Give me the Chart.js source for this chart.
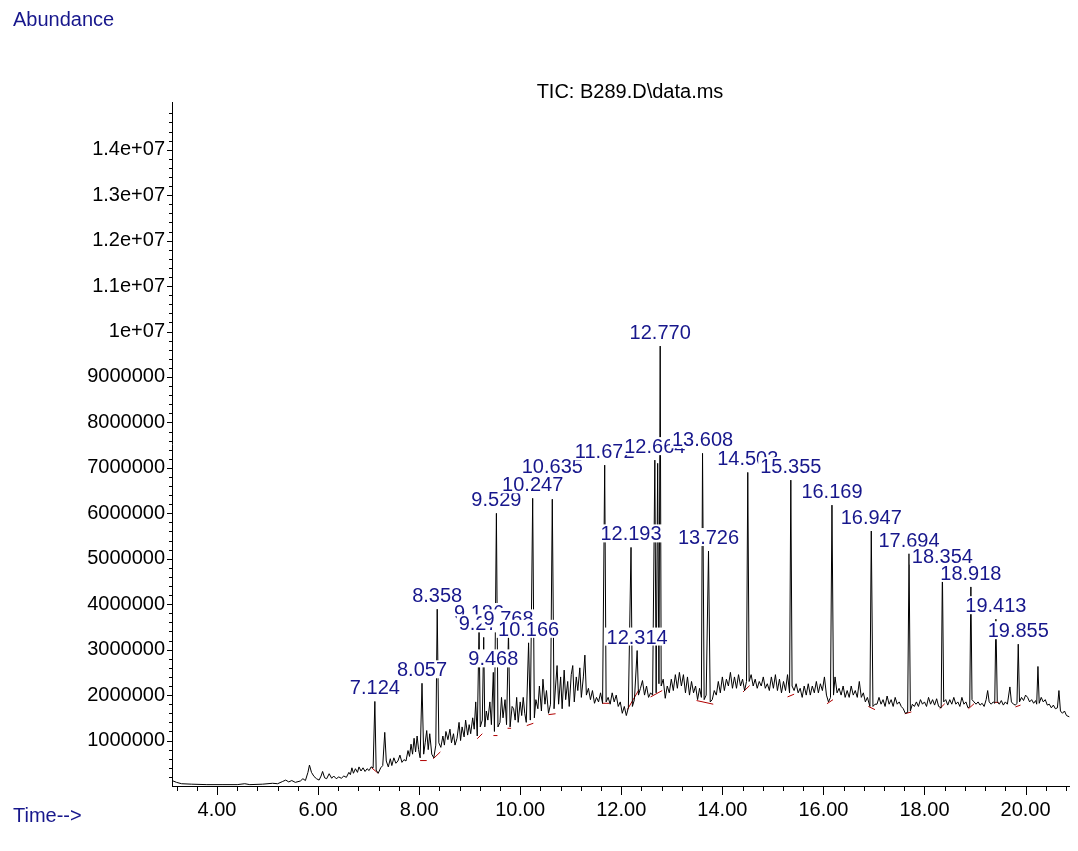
<!DOCTYPE html>
<html>
<head>
<meta charset="utf-8">
<title>TIC: B289.D\data.ms</title>
<script src="https://cdn.jsdelivr.net/npm/chart.js@4.4.1/dist/chart.umd.min.js"></script>
<style>
  html, body { margin: 0; padding: 0; background: #fff; }
  canvas { display: block; }
</style>
</head>
<body>
<canvas id="chart" width="1078" height="851"></canvas>
<script>
// Total ion chromatogram. Time in minutes,
// abundance in millions of counts (one entry per time point).
const retentionTime = [
  3.11, 3.20, 3.30, 3.50, 3.80, 4.10, 4.40, 4.55, 4.65, 4.90,
  5.10, 5.20, 5.30, 5.36, 5.42, 5.48, 5.55, 5.65, 5.70, 5.75,
  5.80, 5.83, 5.87, 5.92, 5.97, 6.02, 6.06, 6.09, 6.13, 6.17,
  6.22, 6.27, 6.31, 6.36, 6.41, 6.46, 6.51, 6.56, 6.61, 6.64,
  6.67, 6.70, 6.74, 6.78, 6.81, 6.85, 6.89, 6.93, 6.97, 7.01,
  7.05, 7.09, 7.124, 7.15, 7.19, 7.24, 7.28, 7.32, 7.35, 7.39,
  7.43, 7.46, 7.50, 7.54, 7.58, 7.62, 7.66, 7.70, 7.74, 7.78,
  7.81, 7.84, 7.87, 7.90, 7.93, 7.96, 7.99, 8.02, 8.057, 8.09,
  8.12, 8.15, 8.18, 8.21, 8.25, 8.29, 8.33, 8.358, 8.39, 8.43,
  8.47, 8.50, 8.53, 8.57, 8.61, 8.64, 8.68, 8.71, 8.75, 8.79,
  8.82, 8.85, 8.89, 8.92, 8.96, 8.99, 9.02, 9.06, 9.09, 9.12,
  9.15, 9.186, 9.21, 9.25, 9.278, 9.30, 9.33, 9.36, 9.40, 9.43,
  9.468, 9.49, 9.529, 9.56, 9.60, 9.63, 9.66, 9.70, 9.73, 9.768,
  9.80, 9.84, 9.87, 9.90, 9.93, 9.96, 10.00, 10.03, 10.06, 10.09,
  10.12, 10.166, 10.20, 10.247, 10.28, 10.31, 10.35, 10.38, 10.42, 10.45,
  10.49, 10.52, 10.56, 10.60, 10.635, 10.67, 10.70, 10.73, 10.76, 10.80,
  10.83, 10.87, 10.90, 10.94, 10.97, 11.01, 11.04, 11.07, 11.11, 11.14,
  11.18, 11.21, 11.25, 11.28, 11.31, 11.35, 11.39, 11.43, 11.47, 11.51,
  11.55, 11.59, 11.63, 11.672, 11.70, 11.74, 11.78, 11.82, 11.86, 11.90,
  11.94, 11.98, 12.02, 12.06, 12.10, 12.14, 12.193, 12.22, 12.26, 12.314,
  12.34, 12.38, 12.42, 12.46, 12.50, 12.54, 12.58, 12.62, 12.664, 12.69,
  12.72, 12.745, 12.770, 12.79, 12.83, 12.87, 12.91, 12.95, 12.99, 13.03,
  13.07, 13.11, 13.15, 13.19, 13.23, 13.27, 13.31, 13.35, 13.39, 13.43,
  13.47, 13.51, 13.55, 13.585, 13.608, 13.64, 13.68, 13.726, 13.76, 13.80,
  13.84, 13.88, 13.92, 13.96, 14.00, 14.04, 14.08, 14.12, 14.16, 14.20,
  14.24, 14.28, 14.32, 14.36, 14.40, 14.44, 14.478, 14.503, 14.53, 14.57,
  14.61, 14.65, 14.69, 14.73, 14.77, 14.81, 14.85, 14.89, 14.93, 14.97,
  15.01, 15.05, 15.09, 15.13, 15.17, 15.21, 15.25, 15.29, 15.33, 15.355,
  15.38, 15.42, 15.46, 15.50, 15.54, 15.58, 15.62, 15.66, 15.70, 15.74,
  15.78, 15.82, 15.86, 15.90, 15.94, 15.98, 16.02, 16.06, 16.10, 16.14,
  16.169, 16.20, 16.23, 16.27, 16.31, 16.35, 16.39, 16.43, 16.47, 16.51,
  16.55, 16.59, 16.63, 16.67, 16.71, 16.75, 16.79, 16.83, 16.87, 16.92,
  16.947, 16.98, 17.02, 17.06, 17.10, 17.14, 17.18, 17.22, 17.26, 17.30,
  17.34, 17.38, 17.42, 17.46, 17.50, 17.54, 17.58, 17.62, 17.667, 17.694,
  17.72, 17.76, 17.80, 17.84, 17.88, 17.92, 17.96, 18.00, 18.04, 18.08,
  18.12, 18.16, 18.20, 18.24, 18.28, 18.33, 18.354, 18.38, 18.42, 18.46,
  18.50, 18.54, 18.58, 18.62, 18.66, 18.70, 18.74, 18.78, 18.82, 18.86,
  18.895, 18.918, 18.94, 18.98, 19.02, 19.06, 19.10, 19.14, 19.18, 19.22,
  19.25, 19.28, 19.32, 19.36, 19.39, 19.413, 19.44, 19.48, 19.52, 19.56,
  19.60, 19.64, 19.69, 19.72, 19.76, 19.80, 19.83, 19.855, 19.88, 19.92,
  19.96, 20.00, 20.04, 20.08, 20.12, 20.16, 20.20, 20.22, 20.245, 20.27,
  20.31, 20.35, 20.39, 20.43, 20.47, 20.51, 20.55, 20.59, 20.63, 20.66,
  20.69, 20.73, 20.77, 20.81, 20.87
];
const abundanceM = [
  0.12, 0.08, 0.05, 0.04, 0.03, 0.03, 0.03, 0.05, 0.03, 0.04,
  0.06, 0.05, 0.10, 0.13, 0.09, 0.12, 0.08, 0.11, 0.16, 0.12,
  0.30, 0.46, 0.30, 0.21, 0.16, 0.13, 0.22, 0.32, 0.18, 0.16,
  0.27, 0.17, 0.22, 0.16, 0.20, 0.17, 0.22, 0.19, 0.30, 0.25,
  0.40, 0.28, 0.38, 0.30, 0.42, 0.33, 0.40, 0.32, 0.38, 0.34,
  0.42, 0.40, 1.86, 0.35, 0.28, 0.40, 0.45, 1.18, 0.55, 0.42,
  0.60, 0.45, 0.62, 0.50, 0.55, 0.68, 0.52, 0.58, 0.55, 0.78,
  0.65, 0.92, 0.70, 1.05, 0.75, 1.10, 0.80, 0.62, 2.26, 0.70,
  0.95, 1.22, 0.80, 1.15, 0.70, 0.62, 0.90, 3.89, 0.95, 0.85,
  1.10, 0.90, 1.20, 1.02, 1.25, 0.95, 1.15, 0.90, 1.05, 1.40,
  1.00, 1.30, 1.08, 1.45, 1.12, 1.35, 1.15, 1.50, 1.25, 1.85,
  1.10, 3.52, 1.30, 1.45, 3.27, 1.30, 1.65, 1.45, 1.85, 1.35,
  2.50, 1.20, 6.00, 1.30, 1.40, 1.95, 1.50, 1.90, 1.35, 3.38,
  1.30, 1.75, 1.70, 1.45, 1.95, 1.40, 1.85, 1.55, 1.95, 1.60,
  1.40, 3.15, 1.45, 6.33, 1.50, 1.90, 1.70, 2.20, 1.65, 2.35,
  1.80, 2.10, 1.60, 1.80, 6.31, 1.70, 2.20, 2.65, 1.80, 2.40,
  1.70, 2.55, 1.90, 2.30, 1.75, 2.45, 2.65, 1.85, 2.40, 2.10,
  2.60, 1.95, 2.40, 2.88, 2.00, 2.15, 1.90, 2.10, 1.82, 1.95,
  1.85, 2.05, 1.82, 7.06, 1.85, 1.95, 1.80, 2.05, 1.85, 2.00,
  1.75, 1.85, 1.60, 1.75, 1.55, 1.72, 5.25, 1.75, 1.90, 2.98,
  2.00, 2.15, 2.32, 2.00, 2.20, 1.95, 2.05, 2.00, 7.17, 2.05,
  7.10, 2.25, 9.68, 2.20, 2.35, 1.93, 2.20, 2.05, 2.35, 2.10,
  2.45, 2.15, 2.50, 2.20, 2.45, 2.05, 2.40, 2.00, 2.30, 2.05,
  2.20, 1.90, 2.15, 1.95, 7.32, 1.90, 2.00, 5.17, 1.85, 1.90,
  2.10, 2.00, 2.30, 2.05, 2.40, 2.10, 2.35, 2.20, 2.50, 2.15,
  2.40, 2.15, 2.45, 2.20, 2.35, 2.10, 2.30, 6.90, 2.30, 2.45,
  2.20, 2.35, 2.15, 2.30, 2.20, 2.40, 2.15, 2.25, 2.10, 2.40,
  2.15, 2.45, 2.10, 2.35, 2.05, 2.30, 2.10, 2.45, 2.05, 6.73,
  2.20, 2.10, 2.25, 2.05, 2.15, 1.95, 2.20, 2.00, 2.25, 2.00,
  2.20, 2.05, 2.30, 2.05, 2.25, 2.10, 2.40, 2.00, 1.85, 1.95,
  6.18, 2.00, 2.40, 2.05, 2.15, 2.00, 2.20, 1.95, 2.10, 1.95,
  2.20, 2.00, 2.10, 1.95, 2.30, 1.95, 2.05, 1.85, 1.95, 1.75,
  5.61, 1.75, 1.80, 1.80, 1.95, 1.80, 1.90, 1.75, 1.98, 1.80,
  1.90, 1.75, 1.95, 1.80, 1.85, 1.75, 1.70, 1.60, 1.62, 5.11,
  1.65, 1.80, 1.75, 1.85, 1.75, 1.90, 1.80, 1.85, 1.75, 1.95,
  1.80, 1.90, 1.78, 1.92, 1.75, 1.72, 4.76, 1.85, 1.90, 1.78,
  1.90, 1.80, 1.95, 1.80, 1.85, 1.75, 1.95, 1.80, 1.85, 1.72,
  1.75, 4.38, 1.90, 1.85, 1.80, 1.85, 1.78, 1.82, 1.75, 1.90,
  2.10, 1.85, 1.80, 1.85, 1.82, 3.67, 1.85, 1.80, 1.88, 1.78,
  1.85, 1.80, 2.18, 1.85, 1.80, 1.78, 1.82, 3.12, 1.85, 1.95,
  1.88, 2.00, 1.95, 1.85, 1.90, 1.82, 1.88, 1.80, 2.63, 1.82,
  1.95, 1.85, 1.90, 1.78, 1.80, 1.72, 1.78, 1.70, 1.72, 2.10,
  1.65, 1.60, 1.65, 1.55, 1.52
];

// Integration baselines (red segments): start and end of each.
const baseStartT = [7.06, 8.02, 8.28, 9.15, 9.47, 9.75, 10.13, 10.56, 11.62, 12.12, 12.58, 13.49, 14.41, 15.29, 16.07, 16.89, 17.61, 18.30, 18.87, 19.38, 19.80];
const baseStartA = [0.40, 0.56, 0.60, 1.04, 1.11, 1.27, 1.33, 1.57, 1.82, 1.68, 1.96, 1.88, 2.07, 1.96, 1.81, 1.75, 1.59, 1.70, 1.70, 1.84, 1.74];
const baseEndT   = [7.19, 8.15, 8.42, 9.25, 9.55, 9.82, 10.26, 10.70, 11.76, 12.35, 12.81, 13.82, 14.54, 15.42, 16.19, 17.02, 17.74, 18.40, 18.98, 19.47, 19.90];
const baseEndA   = [0.28, 0.56, 0.75, 1.15, 1.11, 1.27, 1.38, 1.59, 1.82, 2.12, 2.10, 1.80, 2.21, 2.02, 1.90, 1.68, 1.63, 1.81, 1.81, 1.84, 1.78];

// Labelled peaks
const peakTimes = [7.124, 8.057, 8.358, 9.186, 9.278, 9.468, 9.529, 9.768, 10.166, 10.247, 10.635, 11.672, 12.193, 12.314, 12.664, 12.770, 13.608, 13.726, 14.503, 15.355, 16.169, 16.947, 17.694, 18.354, 18.918, 19.413, 19.855];
const peakNames = ['7.124', '8.057', '8.358', '9.186', '9.278', '9.468', '9.529', '9.768', '10.166', '10.247', '10.635', '11.672', '12.193', '12.314', '12.664', '12.770', '13.608', '13.726', '14.503', '15.355', '16.169', '16.947', '17.694', '18.354', '18.918', '19.413', '19.855'];

const FONT = '"Liberation Sans", Arial, sans-serif';
const NAVY = '#17178c';

const traceData = retentionTime.map((t, i) => ({ x: t, y: abundanceM[i] * 1e6 }));
const baselineData = [];
baseStartT.forEach((t, i) => {
  baselineData.push({ x: t, y: baseStartA[i] * 1e6 });
  baselineData.push({ x: baseEndT[i], y: baseEndA[i] * 1e6 });
  baselineData.push({ x: baseEndT[i], y: null });
});

function isMajorTime(v) { return Math.abs(v / 2 - Math.round(v / 2)) < 1e-6; }
function isMajorAbund(v) { return v > 0 && Math.round(v / 1e5) % 10 === 0; }

function peakTop(t) {
  let best = traceData[0];
  traceData.forEach(p => { if (Math.abs(p.x - t) < Math.abs(best.x - t)) best = p; });
  return best.y;
}

// tick marks: long on labelled times, short elsewhere
const tickMarks = {
  id: 'tickMarks',
  afterDraw(chart) {
    const { ctx, chartArea, scales: { x, y } } = chart;
    ctx.save();
    ctx.strokeStyle = '#000';
    ctx.lineWidth = 1;
    ctx.beginPath();
    x.ticks.forEach(tk => {
      const px = Math.round(x.getPixelForValue(tk.value)) + 0.5;
      ctx.moveTo(px, chartArea.bottom);
      ctx.lineTo(px, chartArea.bottom + (isMajorTime(tk.value) ? 9 : 5));
    });
    y.ticks.forEach(tk => {
      if (tk.value <= 0) return;
      const py = Math.round(y.getPixelForValue(tk.value)) + 0.5;
      ctx.moveTo(chartArea.left, py);
      ctx.lineTo(chartArea.left - (isMajorAbund(tk.value) ? 5 : 3), py);
    });
    ctx.stroke();
    ctx.restore();
  }
};

// Peak labels sit just above each apex on a white box; a label that lands
// squarely on the previous one is lifted above it.
const peakLabels = {
  id: 'peakLabels',
  afterDatasetsDraw(chart) {
    const { ctx, scales: { x, y } } = chart;
    ctx.save();
    ctx.font = '20px ' + FONT;
    ctx.textAlign = 'center';
    ctx.textBaseline = 'alphabetic';
    let prev = null;
    peakTimes.forEach((t, i) => {
      const px = x.getPixelForValue(t);
      let base = y.getPixelForValue(peakTop(t)) - 7;
      const w = ctx.measureText(peakNames[i]).width;
      let box = { l: px - w / 2 - 2, r: px + w / 2 + 2, t: base - 16, b: base + 2 };
      if (prev && box.l < prev.r && box.r > prev.l &&
          Math.min(box.b, prev.b) - Math.max(box.t, prev.t) > 12) {
        base = prev.t - 2;
        box = { l: box.l, r: box.r, t: base - 16, b: base + 2 };
      }
      ctx.fillStyle = '#fff';
      ctx.fillRect(box.l, box.t, box.r - box.l, box.b - box.t);
      ctx.fillStyle = NAVY;
      ctx.fillText(peakNames[i], px, base);
      prev = box;
    });
    ctx.restore();
  }
};

const pageText = {
  id: 'pageText',
  afterDraw(chart) {
    const { ctx } = chart;
    ctx.save();
    ctx.font = '20px ' + FONT;
    ctx.textBaseline = 'alphabetic';
    ctx.fillStyle = NAVY;
    ctx.textAlign = 'left';
    ctx.fillText('Abundance', 13, 26);
    ctx.fillText('Time-->', 13, 822);
    ctx.fillStyle = '#000';
    ctx.textAlign = 'center';
    ctx.fillText('TIC: B289.D\\data.ms', 630, 98);
    ctx.restore();
  }
};

new Chart(document.getElementById('chart'), {
  type: 'line',
  data: {
    datasets: [
      {
        data: traceData,
        borderColor: '#000',
        borderWidth: 1,
        pointRadius: 0,
        tension: 0
      },
      {
        data: baselineData,
        borderColor: '#b00000',
        borderWidth: 1,
        pointRadius: 0,
        tension: 0,
        spanGaps: false
      }
    ]
  },
  options: {
    responsive: false,
    animation: false,
    events: [],
    layout: { padding: { top: 102, left: 0, right: 0, bottom: 0 } },
    plugins: { legend: { display: false }, tooltip: { enabled: false } },
    scales: {
      x: {
        type: 'linear',
        min: 3.11,
        max: 20.87,
        grid: { display: false, drawTicks: false },
        border: { display: true, color: '#000', width: 1 },
        ticks: {
          stepSize: 0.4,
          includeBounds: false,
          autoSkip: false,
          maxRotation: 0,
          padding: 12,
          color: '#000',
          font: { family: FONT, size: 20 },
          callback: v => isMajorTime(v) ? v.toFixed(2) : ''
        },
        afterFit: s => { s.height = 65; }
      },
      y: {
        min: 0,
        max: 15050000,
        grid: { display: false, drawTicks: false },
        border: { display: true, color: '#000', width: 1 },
        // one tick every 200 000 counts below the top edge, a label on every millionth
        afterBuildTicks: s => {
          const ticks = [];
          for (let v = 200000; v < s.max - 100000; v += 200000) ticks.push({ value: v });
          s.ticks = ticks;
        },
        ticks: {
          autoSkip: false,
          padding: 7,
          color: '#000',
          font: { family: FONT, size: 20 },
          callback: v => {
            if (!isMajorAbund(v)) return '';
            return v >= 1e7 ? parseFloat((v / 1e7).toFixed(2)) + 'e+07' : String(v);
          }
        },
        afterFit: s => { s.width = 172; }
      }
    }
  },
  plugins: [tickMarks, peakLabels, pageText]
});
</script>
</body>
</html>
